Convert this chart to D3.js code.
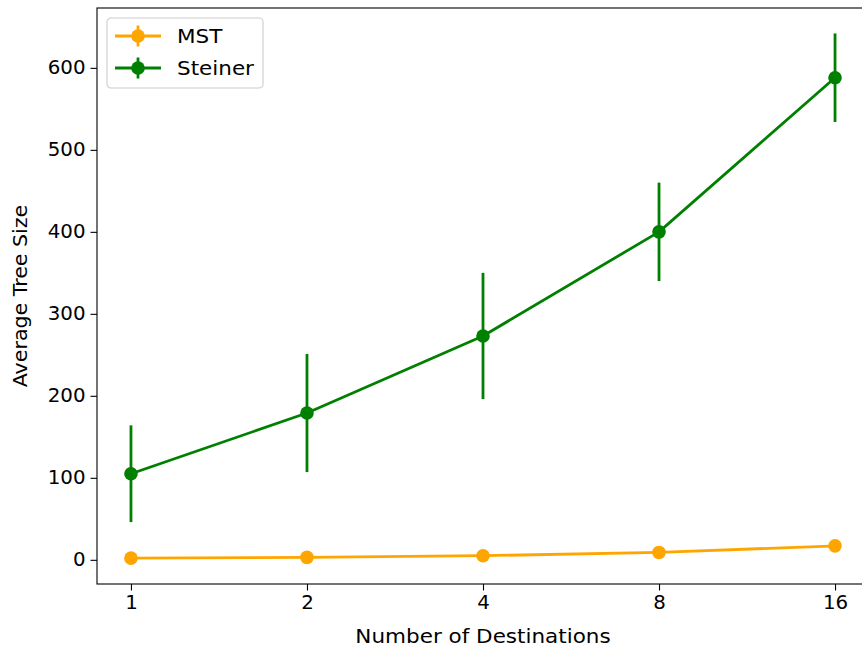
<!DOCTYPE html>
<html>
<head>
<meta charset="utf-8">
<script src="https://cdn.jsdelivr.net/npm/d3@7"></script>
<style>
  html, body { margin: 0; padding: 0; background: #fff; overflow: hidden; }
  svg text { font-family: "DejaVu Sans", sans-serif; fill: #000; }
</style>
</head>
<body>
<svg id="chart" width="862" height="654"></svg>
<script>
// Number of destinations (categorical x positions)
const destinations = ["1", "2", "4", "8", "16"];
// Average tree size per algorithm, with error-bar half widths
const mstMean = [2, 3, 5, 9, 17];
const mstErr = [1, 1, 1, 2, 3];
const steinerMean = [105, 179, 273, 400, 588];
const steinerErr = [59, 72, 77, 60, 54];
const yTicks = [0, 100, 200, 300, 400, 500, 600];

const series = [
  { name: "MST", color: "#ffa500", mean: mstMean, err: mstErr },
  { name: "Steiner", color: "#008000", mean: steinerMean, err: steinerErr }
];

// the axes run slightly past the right edge of the canvas
const margin = { left: 97, top: 8, bottom: 70 };
const plotW = 772;
const W = 862, H = 654;
const svg = d3.select("#chart");
const plotH = H - margin.top - margin.bottom;

const x = d3.scalePoint().domain(destinations).range([0, plotW]).padding(0.193);
const y = d3.scaleLinear().domain([-29.5, 673]).range([plotH, 0]);

const g = svg.append("g").attr("transform", `translate(${margin.left},${margin.top})`);

const fontSize = 18.7;
const lw = 2.8;
const r = 6.8;
const stretch = 1.1;

// axes
const xAxis = g.append("g").attr("transform", `translate(0,${plotH})`)
  .call(d3.axisBottom(x).tickSizeOuter(0).tickSize(6.5).tickPadding(5));
const yAxis = g.append("g")
  .call(d3.axisLeft(y).tickValues(yTicks).tickSizeOuter(0).tickSize(6.5).tickPadding(5));
[xAxis, yAxis].forEach(a => {
  a.select(".domain").remove();
  a.selectAll("line").attr("stroke", "#000").attr("stroke-width", 1.1);
  a.selectAll("text").style("font-size", fontSize + "px").attr("fill", "#000");
});
// widen tick glyphs a little, keeping their anchor point fixed
xAxis.selectAll(".tick text").attr("transform", "scale(1.06,1)");
yAxis.selectAll(".tick text").each(function () {
  const t = d3.select(this);
  const xx = +t.attr("x");
  t.attr("x", xx / 1.06).attr("transform", "scale(1.06,1)");
});

// series lines, error bars and markers
series.forEach(s => {
  const pts = destinations.map((d, i) => ({ d, v: s.mean[i], e: s.err[i] }));
  g.selectAll(null).data(pts).enter().append("line")
    .attr("x1", p => x(p.d)).attr("x2", p => x(p.d))
    .attr("y1", p => y(p.v - p.e)).attr("y2", p => y(p.v + p.e))
    .attr("stroke", s.color).attr("stroke-width", lw);
  g.append("path").datum(pts)
    .attr("d", d3.line().x(p => x(p.d)).y(p => y(p.v)))
    .attr("fill", "none").attr("stroke", s.color).attr("stroke-width", lw)
    .attr("stroke-linejoin", "round").attr("stroke-linecap", "square");
  g.selectAll(null).data(pts).enter().append("circle")
    .attr("cx", p => x(p.d)).attr("cy", p => y(p.v)).attr("r", r)
    .attr("fill", s.color);
});

// frame
g.append("rect").attr("x", 0).attr("y", 0).attr("width", plotW).attr("height", plotH)
  .attr("fill", "none").attr("stroke", "#000").attr("stroke-width", 1.1);

// axis labels
const cx = margin.left + x("4");
svg.append("text")
  .attr("transform", `translate(${cx},643) scale(${stretch + 0.05},1)`)
  .attr("text-anchor", "middle").style("font-size", fontSize + "px")
  .text("Number of Destinations");
svg.append("text")
  .attr("transform", `translate(27,${margin.top + plotH / 2}) rotate(-90) scale(${stretch},1)`)
  .attr("text-anchor", "middle").style("font-size", fontSize + "px")
  .text("Average Tree Size");

// legend
const lg = svg.append("g").attr("transform", "translate(107,18)");
lg.append("rect").attr("width", 156).attr("height", 70).attr("rx", 4)
  .attr("fill", "#fff").attr("fill-opacity", 0.8)
  .attr("stroke", "#cccccc").attr("stroke-width", 1.1);
series.forEach((s, i) => {
  const cy = 18 + i * 32;
  const row = lg.append("g").attr("transform", `translate(0,${cy})`);
  row.append("line").attr("x1", 8).attr("x2", 54).attr("y1", 0).attr("y2", 0)
    .attr("stroke", s.color).attr("stroke-width", lw);
  row.append("line").attr("x1", 31).attr("x2", 31).attr("y1", -10.5).attr("y2", 10.5)
    .attr("stroke", s.color).attr("stroke-width", lw);
  row.append("circle").attr("cx", 31).attr("cy", 0).attr("r", r).attr("fill", s.color);
  row.append("text").attr("transform", `translate(70,0) scale(${stretch + 0.05},1)`)
    .attr("dy", "0.36em")
    .style("font-size", fontSize + "px").text(s.name);
});
</script>
</body>
</html>
